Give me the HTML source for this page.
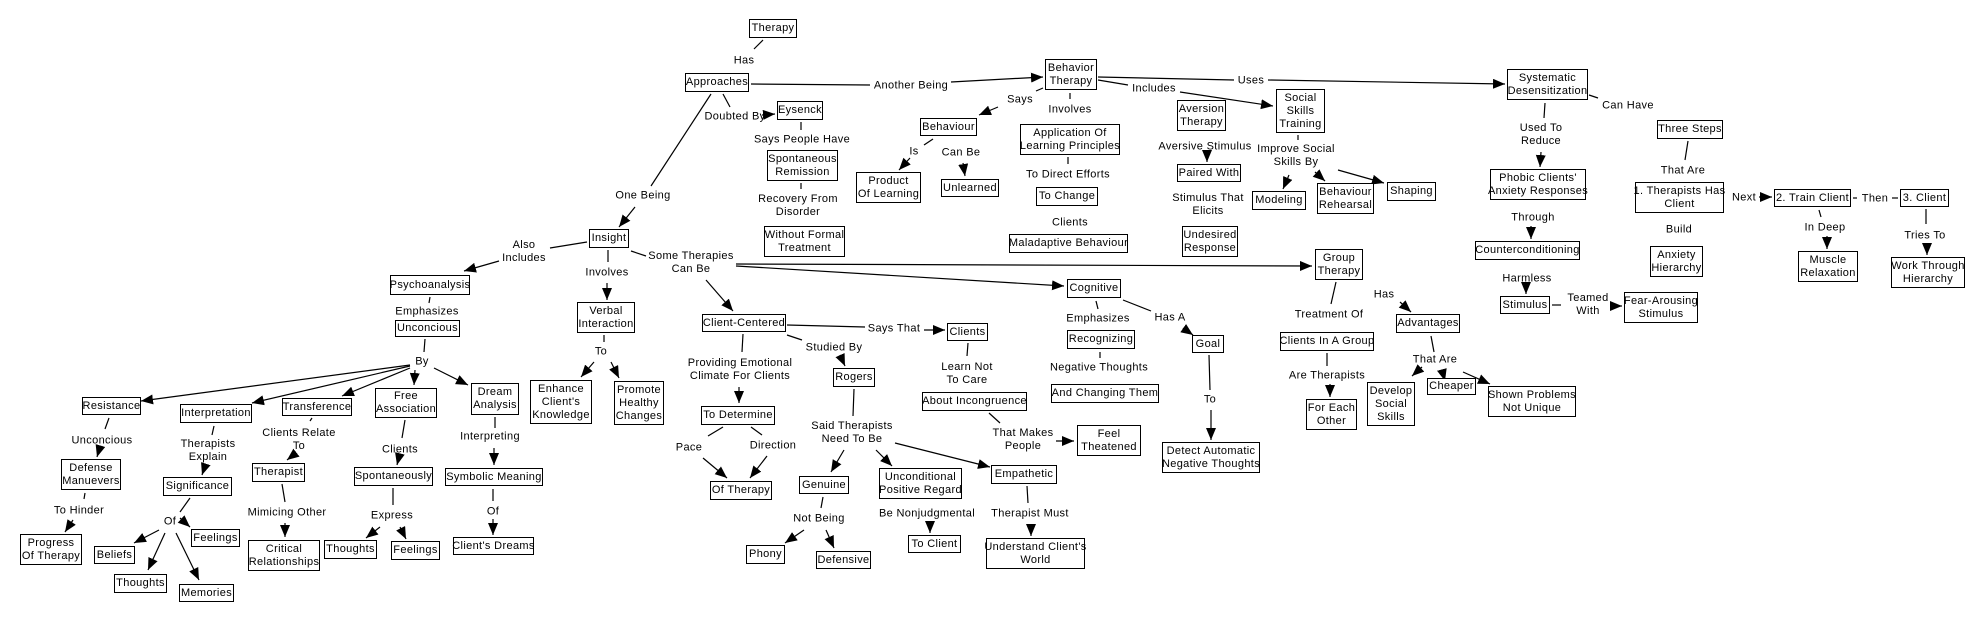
<!DOCTYPE html>
<html><head><meta charset="utf-8">
<style>
html,body{margin:0;padding:0;background:#fff;}
body{width:1985px;height:622px;position:relative;overflow:hidden;font-family:"Liberation Sans",Arial,sans-serif;font-size:11px;letter-spacing:0.35px;color:#000;}
svg{position:absolute;left:0;top:0;}
.b{position:absolute;border:1px solid #000;box-sizing:border-box;background:#fff;display:flex;align-items:center;justify-content:center;text-align:center;line-height:13px;white-space:nowrap;}
.l{position:absolute;transform:translate(-50%,-50%);text-align:center;line-height:13px;white-space:nowrap;}
</style></head><body>
<svg width="1985" height="622" viewBox="0 0 1985 622">
<defs><marker id="a" markerUnits="userSpaceOnUse" markerWidth="13" markerHeight="11" refX="12" refY="5" orient="auto"><path d="M0,0 L12,5 L0,10 z" fill="#000"/></marker></defs>
<g stroke="#000" stroke-width="1.2" fill="none">
<line x1="763" y1="40" x2="754" y2="49"/>
<line x1="751" y1="84" x2="870" y2="85"/><line x1="951" y1="82" x2="1043" y2="77" marker-end="url(#a)"/>
<line x1="723" y1="94" x2="730" y2="107"/><line x1="762" y1="115" x2="775" y2="114" marker-end="url(#a)"/>
<line x1="801" y1="122" x2="801" y2="130"/><line x1="801" y1="183" x2="801" y2="189"/>
<line x1="711" y1="94" x2="651" y2="186"/><line x1="635" y1="207" x2="619" y2="227" marker-end="url(#a)"/>
<line x1="587" y1="242" x2="550" y2="248"/><line x1="499" y1="261" x2="464" y2="271" marker-end="url(#a)"/>
<line x1="608" y1="250" x2="608" y2="262"/><line x1="607" y1="283" x2="607" y2="300" marker-end="url(#a)"/>
<line x1="631" y1="251" x2="646" y2="256"/>
<line x1="736" y1="264" x2="1312" y2="266" marker-end="url(#a)"/>
<line x1="736" y1="266" x2="1064" y2="286" marker-end="url(#a)"/>
<line x1="706" y1="280" x2="733" y2="311" marker-end="url(#a)"/>
<line x1="1043" y1="88" x2="1036" y2="91"/><line x1="998" y1="107" x2="979" y2="115" marker-end="url(#a)"/>
<line x1="1070" y1="93" x2="1070" y2="99"/><line x1="1068" y1="157" x2="1068" y2="164"/>
<line x1="1098" y1="80" x2="1128" y2="85"/><line x1="1180" y1="92" x2="1273" y2="106" marker-end="url(#a)"/>
<line x1="1098" y1="77" x2="1234" y2="80"/><line x1="1268" y1="80" x2="1505" y2="84" marker-end="url(#a)"/>
<line x1="933" y1="139" x2="924" y2="145"/><line x1="910" y1="158" x2="899" y2="170" marker-end="url(#a)"/>
<line x1="963" y1="163" x2="965" y2="176" marker-end="url(#a)"/>
<line x1="1207" y1="154" x2="1207" y2="162" marker-end="url(#a)"/>
<line x1="1298" y1="135" x2="1298" y2="140"/>
<line x1="1289" y1="175" x2="1283" y2="189" marker-end="url(#a)"/>
<line x1="1315" y1="172" x2="1325" y2="181" marker-end="url(#a)"/>
<line x1="1338" y1="170" x2="1384" y2="183" marker-end="url(#a)"/>
<line x1="1545" y1="103" x2="1544" y2="118"/><line x1="1541" y1="152" x2="1540" y2="167" marker-end="url(#a)"/>
<line x1="1589" y1="95" x2="1598" y2="98"/>
<line x1="1531" y1="226" x2="1531" y2="239" marker-end="url(#a)"/>
<line x1="1526" y1="286" x2="1526" y2="294" marker-end="url(#a)"/>
<line x1="1552" y1="305" x2="1561" y2="305"/><line x1="1610" y1="306" x2="1622" y2="306" marker-end="url(#a)"/>
<line x1="1688" y1="141" x2="1685" y2="160"/>
<line x1="1759" y1="197" x2="1772" y2="197" marker-end="url(#a)"/>
<line x1="1853" y1="198" x2="1857" y2="198"/><line x1="1892" y1="198" x2="1898" y2="198"/>
<line x1="1819" y1="210" x2="1821" y2="217"/><line x1="1827" y1="236" x2="1827" y2="249" marker-end="url(#a)"/>
<line x1="1926" y1="209" x2="1926" y2="224"/><line x1="1927" y1="243" x2="1927" y2="255" marker-end="url(#a)"/>
<line x1="1400" y1="302" x2="1411" y2="312" marker-end="url(#a)"/>
<line x1="1336" y1="282" x2="1331" y2="304"/>
<line x1="1327" y1="353" x2="1327" y2="366"/><line x1="1330" y1="384" x2="1330" y2="397" marker-end="url(#a)"/>
<line x1="1431" y1="336" x2="1434" y2="352"/>
<line x1="1422" y1="367" x2="1412" y2="376" marker-end="url(#a)"/>
<line x1="1442" y1="370" x2="1445" y2="381" marker-end="url(#a)"/>
<line x1="1463" y1="372" x2="1490" y2="384" marker-end="url(#a)"/>
<line x1="1096" y1="301" x2="1098" y2="309"/>
<line x1="1123" y1="300" x2="1151" y2="311"/><line x1="1183" y1="328" x2="1193" y2="335" marker-end="url(#a)"/>
<line x1="1100" y1="352" x2="1100" y2="358"/>
<line x1="1209" y1="355" x2="1210" y2="390"/><line x1="1211" y1="410" x2="1211" y2="440" marker-end="url(#a)"/>
<line x1="787" y1="325" x2="865" y2="327"/><line x1="924" y1="330" x2="945" y2="330" marker-end="url(#a)"/>
<line x1="787" y1="335" x2="802" y2="340"/><line x1="840" y1="355" x2="845" y2="366" marker-end="url(#a)"/>
<line x1="743" y1="334" x2="742" y2="352"/><line x1="739" y1="387" x2="739" y2="403" marker-end="url(#a)"/>
<line x1="723" y1="427" x2="708" y2="436"/><line x1="703" y1="458" x2="727" y2="478" marker-end="url(#a)"/>
<line x1="751" y1="427" x2="762" y2="435"/><line x1="767" y1="456" x2="750" y2="478" marker-end="url(#a)"/>
<line x1="854" y1="389" x2="853" y2="416"/>
<line x1="844" y1="450" x2="831" y2="472" marker-end="url(#a)"/>
<line x1="876" y1="450" x2="892" y2="466" marker-end="url(#a)"/>
<line x1="895" y1="443" x2="990" y2="467" marker-end="url(#a)"/>
<line x1="823" y1="497" x2="821" y2="508"/>
<line x1="804" y1="530" x2="785" y2="543" marker-end="url(#a)"/>
<line x1="826" y1="530" x2="834" y2="548" marker-end="url(#a)"/>
<line x1="930" y1="522" x2="930" y2="533" marker-end="url(#a)"/>
<line x1="968" y1="343" x2="967" y2="356"/>
<line x1="989" y1="413" x2="1000" y2="423"/><line x1="1056" y1="441" x2="1074" y2="441" marker-end="url(#a)"/>
<line x1="1027" y1="486" x2="1028" y2="503"/><line x1="1031" y1="524" x2="1031" y2="536" marker-end="url(#a)"/>
<line x1="430" y1="297" x2="429" y2="303"/>
<line x1="425" y1="339" x2="424" y2="352"/>
<line x1="410" y1="365" x2="141" y2="401" marker-end="url(#a)"/>
<line x1="410" y1="366" x2="252" y2="403" marker-end="url(#a)"/>
<line x1="410" y1="368" x2="342" y2="396" marker-end="url(#a)"/>
<line x1="415" y1="370" x2="414" y2="385" marker-end="url(#a)"/>
<line x1="434" y1="368" x2="468" y2="385" marker-end="url(#a)"/>
<line x1="109" y1="418" x2="105" y2="429"/><line x1="100" y1="447" x2="97" y2="457" marker-end="url(#a)"/>
<line x1="85" y1="493" x2="84" y2="499"/><line x1="73" y1="520" x2="65" y2="532" marker-end="url(#a)"/>
<line x1="214" y1="426" x2="212" y2="435"/><line x1="205" y1="466" x2="202" y2="475" marker-end="url(#a)"/>
<line x1="190" y1="498" x2="180" y2="512"/>
<line x1="159" y1="530" x2="134" y2="543" marker-end="url(#a)"/>
<line x1="165" y1="533" x2="148" y2="570" marker-end="url(#a)"/>
<line x1="176" y1="533" x2="199" y2="580" marker-end="url(#a)"/>
<line x1="180" y1="518" x2="190" y2="527" marker-end="url(#a)"/>
<line x1="312" y1="418" x2="310" y2="421"/><line x1="296" y1="453" x2="287" y2="460" marker-end="url(#a)"/>
<line x1="282" y1="484" x2="285" y2="502"/><line x1="285" y1="523" x2="285" y2="537" marker-end="url(#a)"/>
<line x1="405" y1="420" x2="402" y2="438"/><line x1="399" y1="457" x2="397" y2="465" marker-end="url(#a)"/>
<line x1="393" y1="488" x2="393" y2="505"/>
<line x1="380" y1="527" x2="366" y2="538" marker-end="url(#a)"/>
<line x1="400" y1="527" x2="406" y2="539" marker-end="url(#a)"/>
<line x1="495" y1="417" x2="495" y2="428"/><line x1="494" y1="448" x2="494" y2="465" marker-end="url(#a)"/>
<line x1="493" y1="489" x2="493" y2="501"/><line x1="493" y1="519" x2="493" y2="535" marker-end="url(#a)"/>
<line x1="604" y1="335" x2="604" y2="342"/>
<line x1="594" y1="362" x2="581" y2="377" marker-end="url(#a)"/>
<line x1="611" y1="362" x2="619" y2="378" marker-end="url(#a)"/>
</g></svg>

<div class="b" style="left:749px;top:19px;width:48px;height:19px">Therapy</div>
<div class="b" style="left:685px;top:73px;width:64px;height:19px">Approaches</div>
<div class="b" style="left:777px;top:101px;width:46px;height:19px">Eysenck</div>
<div class="b" style="left:767px;top:150px;width:71px;height:31px">Spontaneous<br>Remission</div>
<div class="b" style="left:764px;top:226px;width:81px;height:31px">Without Formal<br>Treatment</div>
<div class="b" style="left:589px;top:229px;width:40px;height:19px">Insight</div>
<div class="b" style="left:920px;top:118px;width:57px;height:18px">Behaviour</div>
<div class="b" style="left:856px;top:172px;width:65px;height:31px">Product<br>Of Learning</div>
<div class="b" style="left:941px;top:179px;width:58px;height:18px">Unlearned</div>
<div class="b" style="left:577px;top:302px;width:58px;height:31px">Verbal<br>Interaction</div>
<div class="b" style="left:530px;top:380px;width:62px;height:44px">Enhance<br>Client's<br>Knowledge</div>
<div class="b" style="left:614px;top:381px;width:50px;height:44px">Promote<br>Healthy<br>Changes</div>
<div class="b" style="left:390px;top:275px;width:80px;height:20px">Psychoanalysis</div>
<div class="b" style="left:395px;top:320px;width:65px;height:17px">Unconcious</div>
<div class="b" style="left:471px;top:383px;width:48px;height:32px">Dream<br>Analysis</div>
<div class="b" style="left:82px;top:397px;width:59px;height:18px">Resistance</div>
<div class="b" style="left:61px;top:459px;width:60px;height:31px">Defense<br>Manuevers</div>
<div class="b" style="left:20px;top:534px;width:62px;height:31px">Progress<br>Of Therapy</div>
<div class="b" style="left:180px;top:404px;width:72px;height:19px">Interpretation</div>
<div class="b" style="left:163px;top:477px;width:69px;height:19px">Significance</div>
<div class="b" style="left:191px;top:529px;width:49px;height:18px">Feelings</div>
<div class="b" style="left:94px;top:546px;width:41px;height:18px">Beliefs</div>
<div class="b" style="left:114px;top:574px;width:53px;height:19px">Thoughts</div>
<div class="b" style="left:179px;top:584px;width:55px;height:18px">Memories</div>
<div class="b" style="left:282px;top:398px;width:70px;height:18px">Transference</div>
<div class="b" style="left:252px;top:463px;width:53px;height:19px">Therapist</div>
<div class="b" style="left:248px;top:540px;width:72px;height:31px">Critical<br>Relationships</div>
<div class="b" style="left:375px;top:388px;width:62px;height:30px">Free<br>Association</div>
<div class="b" style="left:354px;top:467px;width:79px;height:19px">Spontaneously</div>
<div class="b" style="left:324px;top:540px;width:53px;height:19px">Thoughts</div>
<div class="b" style="left:391px;top:541px;width:49px;height:19px">Feelings</div>
<div class="b" style="left:445px;top:468px;width:98px;height:18px">Symbolic Meaning</div>
<div class="b" style="left:453px;top:537px;width:81px;height:18px">Client's Dreams</div>
<div class="b" style="left:702px;top:314px;width:84px;height:18px">Client-Centered</div>
<div class="b" style="left:947px;top:323px;width:41px;height:18px">Clients</div>
<div class="b" style="left:833px;top:368px;width:42px;height:19px">Rogers</div>
<div class="b" style="left:701px;top:406px;width:74px;height:19px">To Determine</div>
<div class="b" style="left:710px;top:481px;width:62px;height:19px">Of Therapy</div>
<div class="b" style="left:799px;top:476px;width:50px;height:18px">Genuine</div>
<div class="b" style="left:746px;top:545px;width:39px;height:19px">Phony</div>
<div class="b" style="left:816px;top:551px;width:55px;height:18px">Defensive</div>
<div class="b" style="left:879px;top:468px;width:83px;height:31px">Unconditional<br>Positive Regard</div>
<div class="b" style="left:908px;top:535px;width:53px;height:18px">To Client</div>
<div class="b" style="left:922px;top:392px;width:105px;height:19px">About Incongruence</div>
<div class="b" style="left:1077px;top:425px;width:64px;height:31px">Feel<br>Theatened</div>
<div class="b" style="left:991px;top:465px;width:66px;height:19px">Empathetic</div>
<div class="b" style="left:986px;top:538px;width:99px;height:31px">Understand Client's<br>World</div>
<div class="b" style="left:1045px;top:59px;width:52px;height:31px">Behavior<br>Therapy</div>
<div class="b" style="left:1020px;top:124px;width:100px;height:31px">Application Of<br>Learning Principles</div>
<div class="b" style="left:1036px;top:187px;width:62px;height:19px">To Change</div>
<div class="b" style="left:1009px;top:234px;width:119px;height:19px">Maladaptive Behaviour</div>
<div class="b" style="left:1177px;top:100px;width:49px;height:31px">Aversion<br>Therapy</div>
<div class="b" style="left:1177px;top:164px;width:64px;height:18px">Paired With</div>
<div class="b" style="left:1182px;top:226px;width:56px;height:31px">Undesired<br>Response</div>
<div class="b" style="left:1276px;top:89px;width:49px;height:44px">Social<br>Skills<br>Training</div>
<div class="b" style="left:1252px;top:191px;width:54px;height:19px">Modeling</div>
<div class="b" style="left:1317px;top:183px;width:57px;height:31px">Behaviour<br>Rehearsal</div>
<div class="b" style="left:1387px;top:182px;width:49px;height:19px">Shaping</div>
<div class="b" style="left:1315px;top:249px;width:48px;height:31px">Group<br>Therapy</div>
<div class="b" style="left:1067px;top:279px;width:54px;height:19px">Cognitive</div>
<div class="b" style="left:1507px;top:69px;width:81px;height:31px">Systematic<br>Desensitization</div>
<div class="b" style="left:1657px;top:120px;width:66px;height:19px">Three Steps</div>
<div class="b" style="left:1490px;top:169px;width:96px;height:31px">Phobic Clients'<br>Anxiety Responses</div>
<div class="b" style="left:1475px;top:241px;width:105px;height:19px">Counterconditioning</div>
<div class="b" style="left:1500px;top:296px;width:50px;height:18px">Stimulus</div>
<div class="b" style="left:1624px;top:292px;width:74px;height:31px">Fear-Arousing<br>Stimulus</div>
<div class="b" style="left:1635px;top:182px;width:89px;height:31px">1. Therapists Has<br>Client</div>
<div class="b" style="left:1650px;top:246px;width:53px;height:31px">Anxiety<br>Hierarchy</div>
<div class="b" style="left:1774px;top:189px;width:77px;height:18px">2. Train Client</div>
<div class="b" style="left:1900px;top:189px;width:49px;height:18px">3. Client</div>
<div class="b" style="left:1798px;top:251px;width:60px;height:31px">Muscle<br>Relaxation</div>
<div class="b" style="left:1891px;top:257px;width:74px;height:31px">Work Through<br>Hierarchy</div>
<div class="b" style="left:1067px;top:330px;width:68px;height:19px">Recognizing</div>
<div class="b" style="left:1051px;top:384px;width:108px;height:19px">And Changing Them</div>
<div class="b" style="left:1192px;top:335px;width:32px;height:18px">Goal</div>
<div class="b" style="left:1162px;top:442px;width:98px;height:31px">Detect Automatic<br>Negative Thoughts</div>
<div class="b" style="left:1280px;top:332px;width:94px;height:19px">Clients In A Group</div>
<div class="b" style="left:1306px;top:399px;width:51px;height:31px">For Each<br>Other</div>
<div class="b" style="left:1396px;top:314px;width:64px;height:19px">Advantages</div>
<div class="b" style="left:1367px;top:382px;width:48px;height:44px">Develop<br>Social<br>Skills</div>
<div class="b" style="left:1427px;top:378px;width:49px;height:17px">Cheaper</div>
<div class="b" style="left:1488px;top:386px;width:88px;height:31px">Shown Problems<br>Not Unique</div>

<div class="l" style="left:744px;top:61px">Has</div>
<div class="l" style="left:911px;top:86px">Another Being</div>
<div class="l" style="left:735px;top:117px">Doubted By</div>
<div class="l" style="left:802px;top:140px">Says People Have</div>
<div class="l" style="left:798px;top:206px">Recovery From<br>Disorder</div>
<div class="l" style="left:643px;top:196px">One Being</div>
<div class="l" style="left:524px;top:252px">Also<br>Includes</div>
<div class="l" style="left:691px;top:263px">Some Therapies<br>Can Be</div>
<div class="l" style="left:607px;top:273px">Involves</div>
<div class="l" style="left:914px;top:152px">Is</div>
<div class="l" style="left:961px;top:153px">Can Be</div>
<div class="l" style="left:601px;top:352px">To</div>
<div class="l" style="left:427px;top:312px">Emphasizes</div>
<div class="l" style="left:422px;top:362px">By</div>
<div class="l" style="left:102px;top:441px">Unconcious</div>
<div class="l" style="left:79px;top:511px">To Hinder</div>
<div class="l" style="left:208px;top:451px">Therapists<br>Explain</div>
<div class="l" style="left:170px;top:522px">Of</div>
<div class="l" style="left:299px;top:440px">Clients Relate<br>To</div>
<div class="l" style="left:287px;top:513px">Mimicing Other</div>
<div class="l" style="left:400px;top:450px">Clients</div>
<div class="l" style="left:392px;top:516px">Express</div>
<div class="l" style="left:490px;top:437px">Interpreting</div>
<div class="l" style="left:493px;top:512px">Of</div>
<div class="l" style="left:894px;top:329px">Says That</div>
<div class="l" style="left:834px;top:348px">Studied By</div>
<div class="l" style="left:740px;top:370px">Providing Emotional<br>Climate For Clients</div>
<div class="l" style="left:689px;top:448px">Pace</div>
<div class="l" style="left:773px;top:446px">Direction</div>
<div class="l" style="left:852px;top:433px">Said Therapists<br>Need To Be</div>
<div class="l" style="left:819px;top:519px">Not Being</div>
<div class="l" style="left:927px;top:514px">Be Nonjudgmental</div>
<div class="l" style="left:967px;top:374px">Learn Not<br>To Care</div>
<div class="l" style="left:1023px;top:440px">That Makes<br>People</div>
<div class="l" style="left:1030px;top:514px">Therapist Must</div>
<div class="l" style="left:1020px;top:100px">Says</div>
<div class="l" style="left:1070px;top:110px">Involves</div>
<div class="l" style="left:1068px;top:175px">To Direct Efforts</div>
<div class="l" style="left:1070px;top:223px">Clients</div>
<div class="l" style="left:1154px;top:89px">Includes</div>
<div class="l" style="left:1251px;top:81px">Uses</div>
<div class="l" style="left:1205px;top:147px">Aversive Stimulus</div>
<div class="l" style="left:1208px;top:205px">Stimulus That<br>Elicits</div>
<div class="l" style="left:1296px;top:156px">Improve Social<br>Skills By</div>
<div class="l" style="left:1384px;top:295px">Has</div>
<div class="l" style="left:1628px;top:106px">Can Have</div>
<div class="l" style="left:1541px;top:135px">Used To<br>Reduce</div>
<div class="l" style="left:1533px;top:218px">Through</div>
<div class="l" style="left:1527px;top:279px">Harmless</div>
<div class="l" style="left:1588px;top:305px">Teamed<br>With</div>
<div class="l" style="left:1683px;top:171px">That Are</div>
<div class="l" style="left:1744px;top:198px">Next</div>
<div class="l" style="left:1679px;top:230px">Build</div>
<div class="l" style="left:1875px;top:199px">Then</div>
<div class="l" style="left:1825px;top:228px">In Deep</div>
<div class="l" style="left:1925px;top:236px">Tries To</div>
<div class="l" style="left:1098px;top:319px">Emphasizes</div>
<div class="l" style="left:1170px;top:318px">Has A</div>
<div class="l" style="left:1099px;top:368px">Negative Thoughts</div>
<div class="l" style="left:1210px;top:400px">To</div>
<div class="l" style="left:1329px;top:315px">Treatment Of</div>
<div class="l" style="left:1327px;top:376px">Are Therapists</div>
<div class="l" style="left:1435px;top:360px">That Are</div>
</body></html>
